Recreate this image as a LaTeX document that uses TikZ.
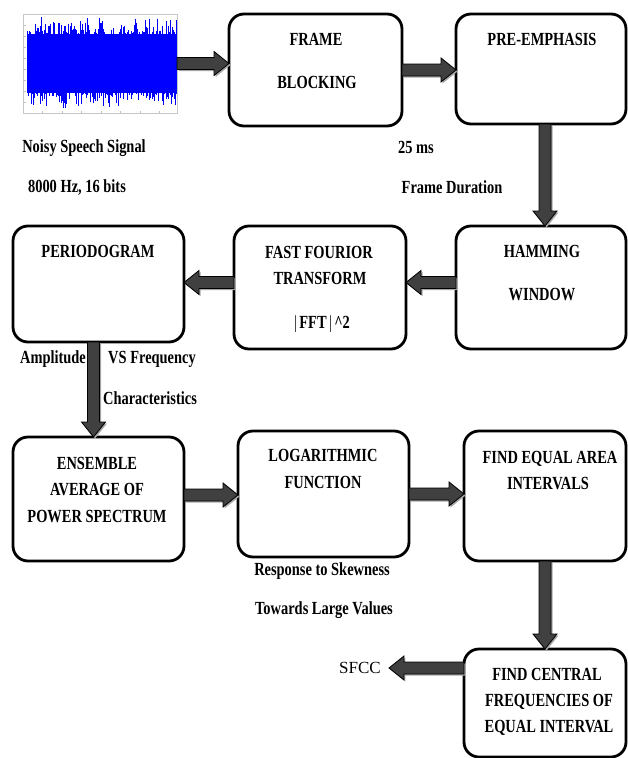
\documentclass[tikz,border=0pt]{standalone}
\usepackage{fontspec}
\setmainfont{Liberation Serif}[BoldFont={Liberation Serif Bold}]
\usetikzlibrary{calc}
\newcommand\sq[1]{\scalebox{0.78}[1]{#1}}
\tikzset{
  box/.style={draw, line width=2.8pt, rounded corners=15pt, inner sep=0pt, outer sep=0pt},
  lbl/.style={font=\bfseries\fontsize{18.5}{18.5}\selectfont, inner sep=0pt, anchor=base},
  arrbody/.style={fill=black!75, draw=black, line width=0.8pt, line join=miter},
  arrshadow/.style={fill=black!35},
}
\newcommand\harr[2]{%
  \path[arrshadow, transform canvas={shift={(1.5pt,-1.5pt)}}] let \p1=#1, \p2=#2, \n1={sign(\x2-\x1)} in
    (\x1,{\y1+6pt}) -- ({\x2-(\n1)*15pt},{\y1+6pt}) -- ({\x2-(\n1)*15pt},{\y1+12pt}) -- (\x2,\y1)
    -- ({\x2-(\n1)*15pt},{\y1-12pt}) -- ({\x2-(\n1)*15pt},{\y1-6pt}) -- (\x1,{\y1-6pt}) -- cycle;
  \path[arrbody] let \p1=#1, \p2=#2, \n1={sign(\x2-\x1)} in
    (\x1,{\y1+6pt}) -- ({\x2-(\n1)*15pt},{\y1+6pt}) -- ({\x2-(\n1)*15pt},{\y1+12pt}) -- (\x2,\y1)
    -- ({\x2-(\n1)*15pt},{\y1-12pt}) -- ({\x2-(\n1)*15pt},{\y1-6pt}) -- (\x1,{\y1-6pt}) -- cycle;
}
\newcommand\varr[2]{%
  \path[arrshadow, transform canvas={shift={(1.5pt,-1.5pt)}}] let \p1=#1, \p2=#2, \n1={sign(\y2-\y1)} in
    ({\x1+6pt},\y1) -- ({\x1+6pt},{\y2-(\n1)*15pt}) -- ({\x1+12pt},{\y2-(\n1)*15pt}) -- (\x1,\y2)
    -- ({\x1-12pt},{\y2-(\n1)*15pt}) -- ({\x1-6pt},{\y2-(\n1)*15pt}) -- ({\x1-6pt},\y1) -- cycle;
  \path[arrbody] let \p1=#1, \p2=#2, \n1={sign(\y2-\y1)} in
    ({\x1+6pt},\y1) -- ({\x1+6pt},{\y2-(\n1)*15pt}) -- ({\x1+12pt},{\y2-(\n1)*15pt}) -- (\x1,\y2)
    -- ({\x1-12pt},{\y2-(\n1)*15pt}) -- ({\x1-6pt},{\y2-(\n1)*15pt}) -- ({\x1-6pt},\y1) -- cycle;
}
\begin{document}
\begin{tikzpicture}[x=1pt,y=-1pt]
\useasboundingbox[fill=white] (0,0) rectangle (628,758);

% noisy speech signal plot
\node[draw=gray!45, line width=0.8pt, minimum width=154pt, minimum height=99pt, inner sep=0pt, outer sep=0pt] (sig) at (100,63.5) {};
\foreach \k in {1,...,8} {\draw[gray!50, line width=0.5pt] (23,{14+\k*11}) -- (25.5,{14+\k*11});}
\foreach \k in {1,...,7} {\draw[gray!50, line width=0.5pt] ({23+\k*19.5},113) -- ({23+\k*19.5},110.5);}
\pgfmathsetseed{4242}
\fill[blue] (27,34) rectangle (176.5,93);
\foreach \i in {0,...,298} {
  \pgfmathsetmacro\xx{27+\i*0.5}
  \pgfmathsetmacro\ta{63-(24+24*rnd*rnd)}
  \pgfmathsetmacro\tb{63+(24+24*rnd*rnd)}
  \draw[blue, line width=0.55pt] (\xx,\ta) -- (\xx,\tb);
}

% boxes
\node[box, minimum width=173pt, minimum height=112pt] (fb)   at (315.5,70)  {};
\node[box, minimum width=170pt, minimum height=110pt] (pre)  at (541,69)    {};
\node[box, minimum width=170pt, minimum height=123pt] (ham)  at (541,287.5) {};
\node[box, minimum width=172pt, minimum height=123pt] (fft)  at (320,287.5) {};
\node[box, minimum width=171pt, minimum height=116pt] (per)  at (98.5,284)  {};
\node[box, minimum width=171pt, minimum height=124pt] (ens)  at (98.5,499)  {};
\node[box, minimum width=171pt, minimum height=126pt] (log)  at (323.5,494) {};
\node[box, minimum width=162pt, minimum height=130pt] (find) at (545,496)   {};
\node[box, minimum width=162pt, minimum height=108pt] (cen)  at (545,703)   {};

% box texts
\node[lbl] (t1)  at (316,45)  {\sq{FRAME}};
\node[lbl] (t2)  at (317,88)  {\sq{BLOCKING}};
\node[lbl] (t3)  at (542,45)  {\sq{PRE-EMPHASIS}};
\node[lbl] (t4)  at (98,257)  {\sq{PERIODOGRAM}};
\node[lbl] (t5)  at (319,258) {\sq{FAST FOURIOR}};
\node[lbl] (t6)  at (320,284) {\sq{TRANSFORM}};
\node[lbl] (t7)  at (322,328) {\sq{{\mdseries|}\,FFT\,{\mdseries|}\,\textasciicircum 2}};
\node[lbl] (t8)  at (542,257) {\sq{HAMMING}};
\node[lbl] (t9)  at (542,300) {\sq{WINDOW}};
\node[lbl] (t10) at (97,469)  {\sq{ENSEMBLE}};
\node[lbl] (t11) at (97,495)  {\sq{AVERAGE OF}};
\node[lbl] (t12) at (97,522)  {\sq{POWER SPECTRUM}};
\node[lbl] (t13) at (323,461) {\sq{LOGARITHMIC}};
\node[lbl] (t14) at (323,488) {\sq{FUNCTION}};
\node[lbl] (t15) at (550,463) {\sq{FIND EQUAL AREA}};
\node[lbl] (t16) at (548,489) {\sq{INTERVALS}};
\node[lbl] (t17) at (547,680) {\sq{FIND CENTRAL}};
\node[lbl] (t18) at (549,706) {\sq{FREQUENCIES OF}};
\node[lbl] (t19) at (549,732) {\sq{EQUAL INTERVAL}};

% annotations
\node[lbl] (l1)  at (84,152)  {\sq{Noisy Speech Signal}};
\node[lbl] (l2)  at (77,192)  {\sq{8000 Hz, 16 bits}};
\node[lbl] (l3)  at (416,153) {\sq{25 ms}};
\node[lbl] (l4)  at (452,193) {\sq{Frame Duration}};
\node[lbl] (l5)  at (53,363)  {\sq{Amplitude}};
\node[lbl] (l6)  at (152,363) {\sq{VS Frequency}};
\node[lbl] (l7)  at (150,404) {\sq{Characteristics}};
\node[lbl] (l8)  at (322,575) {\sq{Response to Skewness}};
\node[lbl] (l9)  at (324,614) {\sq{Towards Large Values}};
\node[inner sep=0pt, anchor=base, font=\fontsize{17}{17}\selectfont] (sfcc) at (360,673) {SFCC};

% connectors
\harr{(sig.east)}{(fb.west)}
\harr{(fb.east)}{(pre.west)}
\varr{([xshift=4pt]pre.south)}{([xshift=4pt]ham.north)}
\harr{([yshift=5pt]ham.west)}{([yshift=5pt]fft.east)}
\harr{([yshift=5pt]fft.west)}{([yshift=5pt]per.east)}
\varr{([xshift=-5pt]per.south)}{([xshift=-5pt]ens.north)}
\harr{([yshift=4pt]ens.east)}{(log.west)}
\harr{(log.east)}{(find.west)}
\varr{(find.south)}{(cen.north)}
\harr{([yshift=35pt]cen.west)}{([xshift=8pt]sfcc.east)}
\end{tikzpicture}
\end{document}
